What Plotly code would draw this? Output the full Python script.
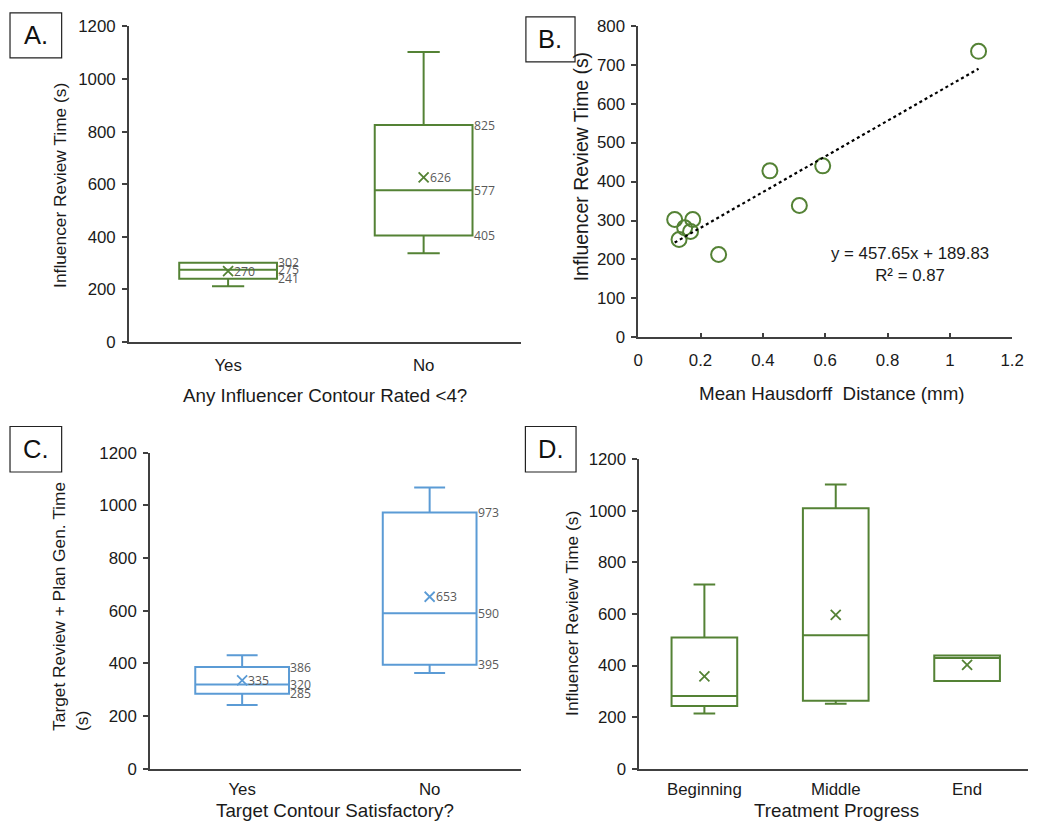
import plotly.graph_objects as go

# ---------------- data ----------------
# Panel A
a_cats = ["Yes", "No"]
a_lower = [212, 338]
a_q1 = [241, 405]
a_median = [275, 577]
a_q3 = [302, 825]
a_upper = [302, 1103]
a_mean = [270, 626]

# Panel B
b_x = [0.117, 0.131, 0.149, 0.168, 0.175, 0.258, 0.4225, 0.517, 0.592, 1.092]
b_y = [302.6, 251.3, 281.2, 271.8, 302.6, 212.8, 427.4, 338.5, 440.2, 734.2]
b_slope = 457.65
b_intercept = 189.83
b_r2 = 0.87

# Panel C
c_cats = ["Yes", "No"]
c_lower = [242, 363]
c_q1 = [285, 395]
c_median = [320, 590]
c_q3 = [386, 973]
c_upper = [431, 1068]
c_mean = [335, 653]

# Panel D
d_cats = ["Beginning", "Middle", "End"]
d_lower = [214, 252, 340]
d_q1 = [243, 264, 340]
d_median = [282, 518, 429]
d_q3 = [509, 1010, 439]
d_upper = [714, 1102, 439]
d_mean = [358, 597, 403]

# ---------------- style ----------------
GREEN = "#548235"
BLUE = "#5b9bd5"
AXIS = "#404040"
TXT = "#1a1a1a"
LBL = "#595959"
FONT = "Liberation Sans, Arial, sans-serif"
LFONT = "Open Sans, sans-serif"
W, H = 1040, 830
BOXW = 0.5

# capture compensation (measured: shown = S * page + O)
SX, OX = 0.981, 7.5
SY, OY = 0.978, 8.6
FS = 1.0 / 0.98  # font compensation


def ppx(xp):
    return (xp - OX) / SX


def ppy(yp):
    return (yp - OY) / SY


def px(xp):
    return min(max(ppx(xp) / W, 0), 1)


def py(yp):
    return min(max(1 - ppy(yp) / H, 0), 1)


fig = go.Figure()
annotations = []
shapes = []


def add_boxes(n, cats, lower, q1, med, q3, upper, mean, color, labels):
    xs = list(range(len(cats)))
    fig.add_trace(go.Box(
        x=xs, q1=q1, median=med, q3=q3, lowerfence=lower, upperfence=upper,
        boxpoints=False, width=BOXW, whiskerwidth=0.33,
        line=dict(color=color, width=2), fillcolor="rgba(0,0,0,0)",
        xaxis=f"x{n}", yaxis=f"y{n}", showlegend=False, hoverinfo="skip"))
    fig.add_trace(go.Scatter(
        x=xs, y=mean, mode="markers",
        marker=dict(symbol="x-thin", size=10, line=dict(color=color, width=1.8)),
        xaxis=f"x{n}", yaxis=f"y{n}", showlegend=False, hoverinfo="skip"))
    if labels:
        xr = f"x{n}"
        yr = f"y{n}"
        for i in xs:
            for v in (q1[i], med[i], q3[i]):
                annotations.append(dict(
                    x=i + BOXW / 2, y=v, xref=xr, yref=yr, text=str(v),
                    showarrow=False, xanchor="left", yanchor="middle", xshift=-1,
                    font=dict(family=LFONT, size=12 * FS, color=LBL)))
            annotations.append(dict(
                x=i, y=mean[i], xref=xr, yref=yr, text=str(mean[i]),
                showarrow=False, xanchor="left", yanchor="middle", xshift=4,
                font=dict(family=LFONT, size=12 * FS, color=LBL)))


add_boxes("", a_cats, a_lower, a_q1, a_median, a_q3, a_upper, a_mean, GREEN, True)
add_boxes("3", c_cats, c_lower, c_q1, c_median, c_q3, c_upper, c_mean, BLUE, True)
add_boxes("4", d_cats, d_lower, d_q1, d_median, d_q3, d_upper, d_mean, GREEN, False)

# Panel B scatter + trendline
fig.add_trace(go.Scatter(
    x=b_x, y=b_y, mode="markers",
    marker=dict(symbol="circle-open", size=15, line=dict(color=GREEN, width=2), color=GREEN),
    xaxis="x2", yaxis="y2", showlegend=False, hoverinfo="skip"))
tx = [min(b_x), max(b_x)]
fig.add_trace(go.Scatter(
    x=tx, y=[b_slope * v + b_intercept for v in tx], mode="lines",
    line=dict(color="black", width=2.2, dash="dot"),
    xaxis="x2", yaxis="y2", showlegend=False, hoverinfo="skip"))

annotations.append(dict(
    x=px(910), y=py(264), xref="paper", yref="paper", xanchor="center", yanchor="middle",
    text=f"y = {b_slope}x + {b_intercept}<br>R² = {b_r2}", showarrow=False,
    align="center", font=dict(family=FONT, size=16.5 * FS, color=TXT)))

# ---------------- axes ----------------
tickfont = dict(family=FONT, size=16.5 * FS, color=TXT)


def cat_axis(cats, x0, x_end, first_center, spacing, standoff):
    lo = (x0 - first_center) / spacing
    hi = (x_end - first_center) / spacing
    d0, d1 = ppx(x0), ppx(x_end)
    if d1 > W:  # clip the axis at the figure edge, keeping the scale
        hi = lo + (hi - lo) * (W - d0) / (d1 - d0)
        d1 = W
    return dict(
        domain=[d0 / W, d1 / W], range=[lo, hi],
        tickmode="array", tickvals=list(range(len(cats))), ticktext=cats,
        showline=True, linecolor=AXIS, linewidth=1.5, ticks="",
        showgrid=False, zeroline=False, tickfont=tickfont, fixedrange=True,
        ticklabelstandoff=standoff)


def val_axis(y_bottom, y_top, top_val, dtick):
    return dict(
        domain=[py(y_bottom), py(y_top)], range=[0, top_val],
        tickmode="linear", tick0=0, dtick=dtick,
        showline=True, linecolor=AXIS, linewidth=1.5, ticks="outside",
        ticklen=5, tickcolor=AXIS, tickwidth=1.5,
        showgrid=False, zeroline=False, tickfont=tickfont, fixedrange=True,
        ticklabelstandoff=3)


layout = dict(
    width=W, height=H, margin=dict(l=0, r=0, t=0, b=0),
    paper_bgcolor="white", plot_bgcolor="white",
    xaxis=cat_axis(a_cats, 131, 522, 230, 195, 7),
    yaxis=val_axis(342, 26, 1200, 200),
    xaxis2=dict(domain=[px(639), px(1012)], range=[0, 1.2], tickmode="linear", tick0=0, dtick=0.2,
                showline=True, linecolor=AXIS, linewidth=1.5, ticks="inside", ticklen=5,
                tickcolor=AXIS, tickwidth=1.5, showgrid=False, zeroline=False,
                tickfont=tickfont, anchor="y2", fixedrange=True, ticklabelstandoff=7),
    yaxis2=val_axis(337.3, 25.3, 800, 100),
    xaxis3=cat_axis(c_cats, 152, 522, 244, 187, 4),
    yaxis3=val_axis(769, 452.7, 1200, 200),
    xaxis4=cat_axis(d_cats, 640, 1033, 705, 131, 4),
    yaxis4=val_axis(769, 459.3, 1200, 200),
)
layout["xaxis"]["anchor"] = "y"
layout["yaxis"]["anchor"] = "x"
layout["yaxis2"]["anchor"] = "x2"
layout["xaxis3"]["anchor"] = "y3"
layout["yaxis3"]["anchor"] = "x3"
layout["xaxis4"]["anchor"] = "y4"
layout["yaxis4"]["anchor"] = "x4"

# axis titles as annotations
titles = [
    ("Any Influencer Contour Rated <4?", 327, 395, 0, 18.4),
    ("Influencer Review Time (s)", 63, 185, -90, 17),
    ("Mean Hausdorff  Distance (mm)", 832, 393, 0, 18.4),
    ("Influencer Review Time (s)", 582, 167, -90, 19),
    ("Influencer Review Time (s)", 573, 614, -90, 17),
]
for t, x, y, ang, sz in titles:
    annotations.append(dict(x=px(x), y=py(y), xref="paper", yref="paper", text=t,
                            showarrow=False, textangle=ang, align="center",
                            xanchor="center", yanchor="middle",
                            font=dict(family=FONT, size=sz * FS, color=TXT)))
# bottom titles: as low as the page edge allows
bottom_center_page = 820.0
for t, x in [("Target Contour Satisfactory?", 337), ("Treatment Progress", 837)]:
    annotations.append(dict(x=px(x), y=1 - bottom_center_page / H, xref="paper", yref="paper",
                            text=t, showarrow=False, xanchor="center", yanchor="middle",
                            borderpad=0,
                            font=dict(family=FONT, size=18.4 * FS, color=TXT)))
# two-line C y title, left-aligned (bottom when rotated)
annotations.append(dict(x=px(73), y=py(733), xref="paper", yref="paper",
                        text="Target Review + Plan Gen. Time<br>(s)", showarrow=False,
                        textangle=-90, align="left", xanchor="center", yanchor="bottom",
                        font=dict(family=FONT, size=17 * FS, color=TXT)))

# panel letter boxes
panels = [("A.", 12.5, 12.5, 64, 57.5), ("B.", 527, 16.5, 576, 61.5),
          ("C.", 12.5, 426.5, 64, 472), ("D.", 526.5, 426.5, 577, 472)]
for lab, x0, y0, x1, y1 in panels:
    shapes.append(dict(type="rect", xref="paper", yref="paper",
                       x0=px(x0), x1=px(x1), y0=py(y1), y1=py(y0),
                       line=dict(color="#222", width=1.2), fillcolor="white"))
    annotations.append(dict(x=px((x0 + x1) / 2), y=py((y0 + y1) / 2), xref="paper", yref="paper",
                            text=lab, showarrow=False, xanchor="center", yanchor="middle",
                            font=dict(family=FONT, size=25 * FS, color="#111")))

layout["annotations"] = annotations
layout["shapes"] = shapes
fig.update_layout(**layout)

fig.write_html("out.html", config={"displayModeBar": False},
               post_script="document.body.style.margin='0';document.body.style.padding='0';"
                           "document.body.style.overflow='hidden';")
